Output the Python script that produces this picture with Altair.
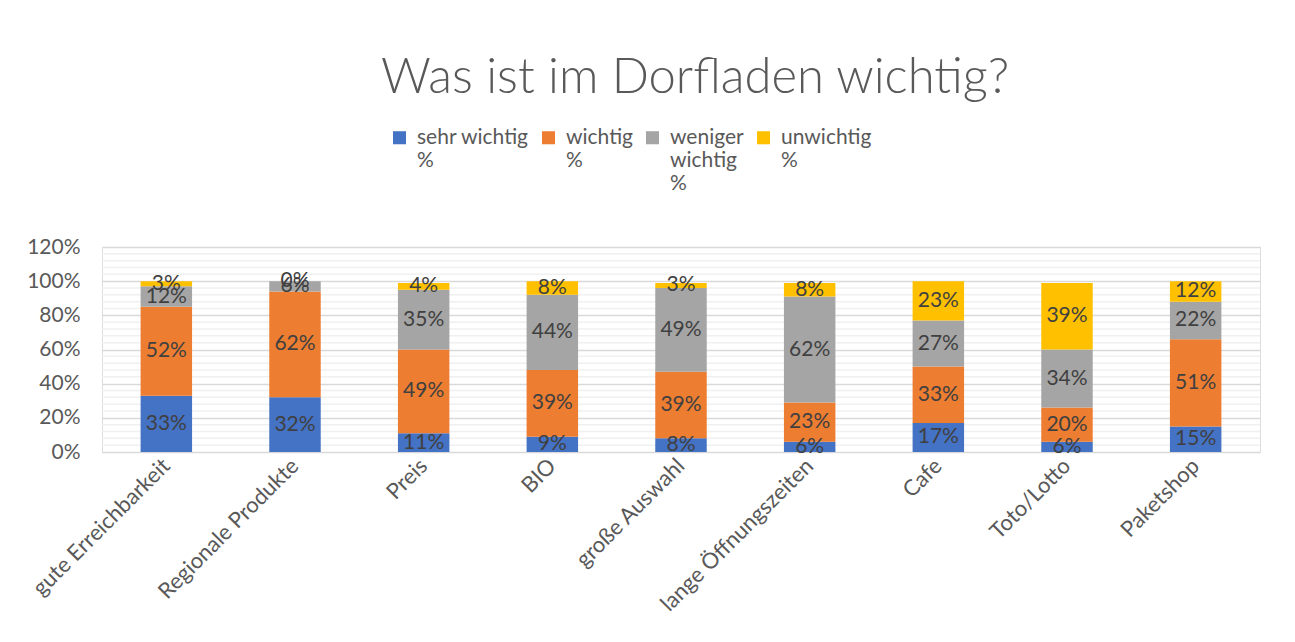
import altair as alt
import pandas as pd

categories = ["gute Erreichbarkeit", "Regionale Produkte", "Preis", "BIO", "große Auswahl",
              "lange Öffnungszeiten", "Cafe", "Toto/Lotto", "Paketshop"]
series_names = ["sehr wichtig %", "wichtig %", "weniger wichtig %", "unwichtig %"]
sehr_wichtig = [33, 32, 11, 9, 8, 6, 17, 6, 15]
wichtig = [52, 62, 49, 39, 39, 23, 33, 20, 51]
weniger_wichtig = [12, 6, 35, 44, 49, 62, 27, 34, 22]
unwichtig = [3, 0, 4, 8, 3, 8, 23, 39, 12]
colors = ["#4472C4", "#ED7D31", "#A5A5A5", "#FFC000"]

rows = []
for si, (name, vals) in enumerate(zip(series_names, [sehr_wichtig, wichtig, weniger_wichtig, unwichtig])):
    for c, v in zip(categories, vals):
        rows.append({"cat": c, "series": name, "value": v / 100.0, "idx": si})
df = pd.DataFrame(rows)

FONT = "Lato"
GREY = "#595959"

major = [0, 0.2, 0.4, 0.6, 0.8, 1.0, 1.2]
minor = [round(i * 0.04, 2) for i in range(31) if i % 5 != 0]
minor_df = pd.DataFrame({"g": minor})

label_expr = ("datum.label == 'weniger wichtig %' ? ['weniger', 'wichtig', '%'] : "
              "datum.label == 'sehr wichtig %' ? ['sehr wichtig', '%', ''] : "
              "datum.label == 'wichtig %' ? ['wichtig', '%', ''] : ['unwichtig', '%', '']")

yscale = alt.Scale(domain=[0, 1.2], nice=False)
xaxis = alt.Axis(labelAngle=-45, labelAlign="right", labelBaseline="middle",
                 labelFont=FONT, labelFontSize=22, labelColor=GREY,
                 labelPadding=10, ticks=False, domain=False, grid=False,
                 labelLimit=300)
yaxis = alt.Axis(values=major, format=".0%", labelFont=FONT, labelFontSize=21,
                 labelColor=GREY, labelPadding=22, ticks=False, domain=False,
                 grid=True, gridColor="#d9d9d9", gridWidth=1.5)
xenc = alt.X("cat:N", sort=categories, title=None,
             scale=alt.Scale(paddingInner=0.6, paddingOuter=0.3), axis=xaxis)

minor_grid = alt.Chart(minor_df).mark_rule(color="#f0f0f0", strokeWidth=1.5).encode(
    y=alt.Y("g:Q", scale=yscale, title=None, axis=yaxis),
)

bars = alt.Chart(df).mark_bar().encode(
    x=xenc,
    y=alt.Y("value:Q", stack="zero", scale=yscale, title=None, axis=yaxis),
    color=alt.Color("series:N", sort=series_names,
                    scale=alt.Scale(domain=series_names, range=colors),
                    legend=alt.Legend(title=None, orient="none", direction="horizontal",
                                      legendX=287, legendY=-120,
                                      labelExpr=label_expr, labelFont=FONT, labelFontSize=21,
                                      labelColor=GREY,
                                      symbolType="square", symbolSize=170, symbolStrokeWidth=0,
                                      columnPadding=9, labelOffset=7, labelLimit=300)),
    order=alt.Order("idx:Q"),
)

texts = alt.Chart(df).transform_stack(
    stack="value", groupby=["cat"], as_=["v0", "v1"], sort=[alt.SortField("idx")]
).transform_calculate(
    mid="(datum.v0 + datum.v1) / 2"
).mark_text(font=FONT, fontSize=21, color="#404040", baseline="middle").encode(
    x=xenc,
    y=alt.Y("mid:Q", scale=yscale, title=None, axis=yaxis),
    text=alt.Text("value:Q", format=".0%"),
)

chart = alt.layer(minor_grid, bars, texts).properties(
    width=1158, height=205,
    title=alt.TitleParams("Was ist im Dorfladen wichtig?", font=FONT, fontSize=49,
                          fontWeight=300, color=GREY, anchor="middle", dx=14, offset=24),
    autosize=alt.AutoSizeParams(type="none"),
    padding={"left": 94, "top": 239, "right": 20, "bottom": 190},
).configure_view(stroke=None).configure(background="white")

chart.save("out.html", embed_options={"renderer": "svg", "actions": False})
